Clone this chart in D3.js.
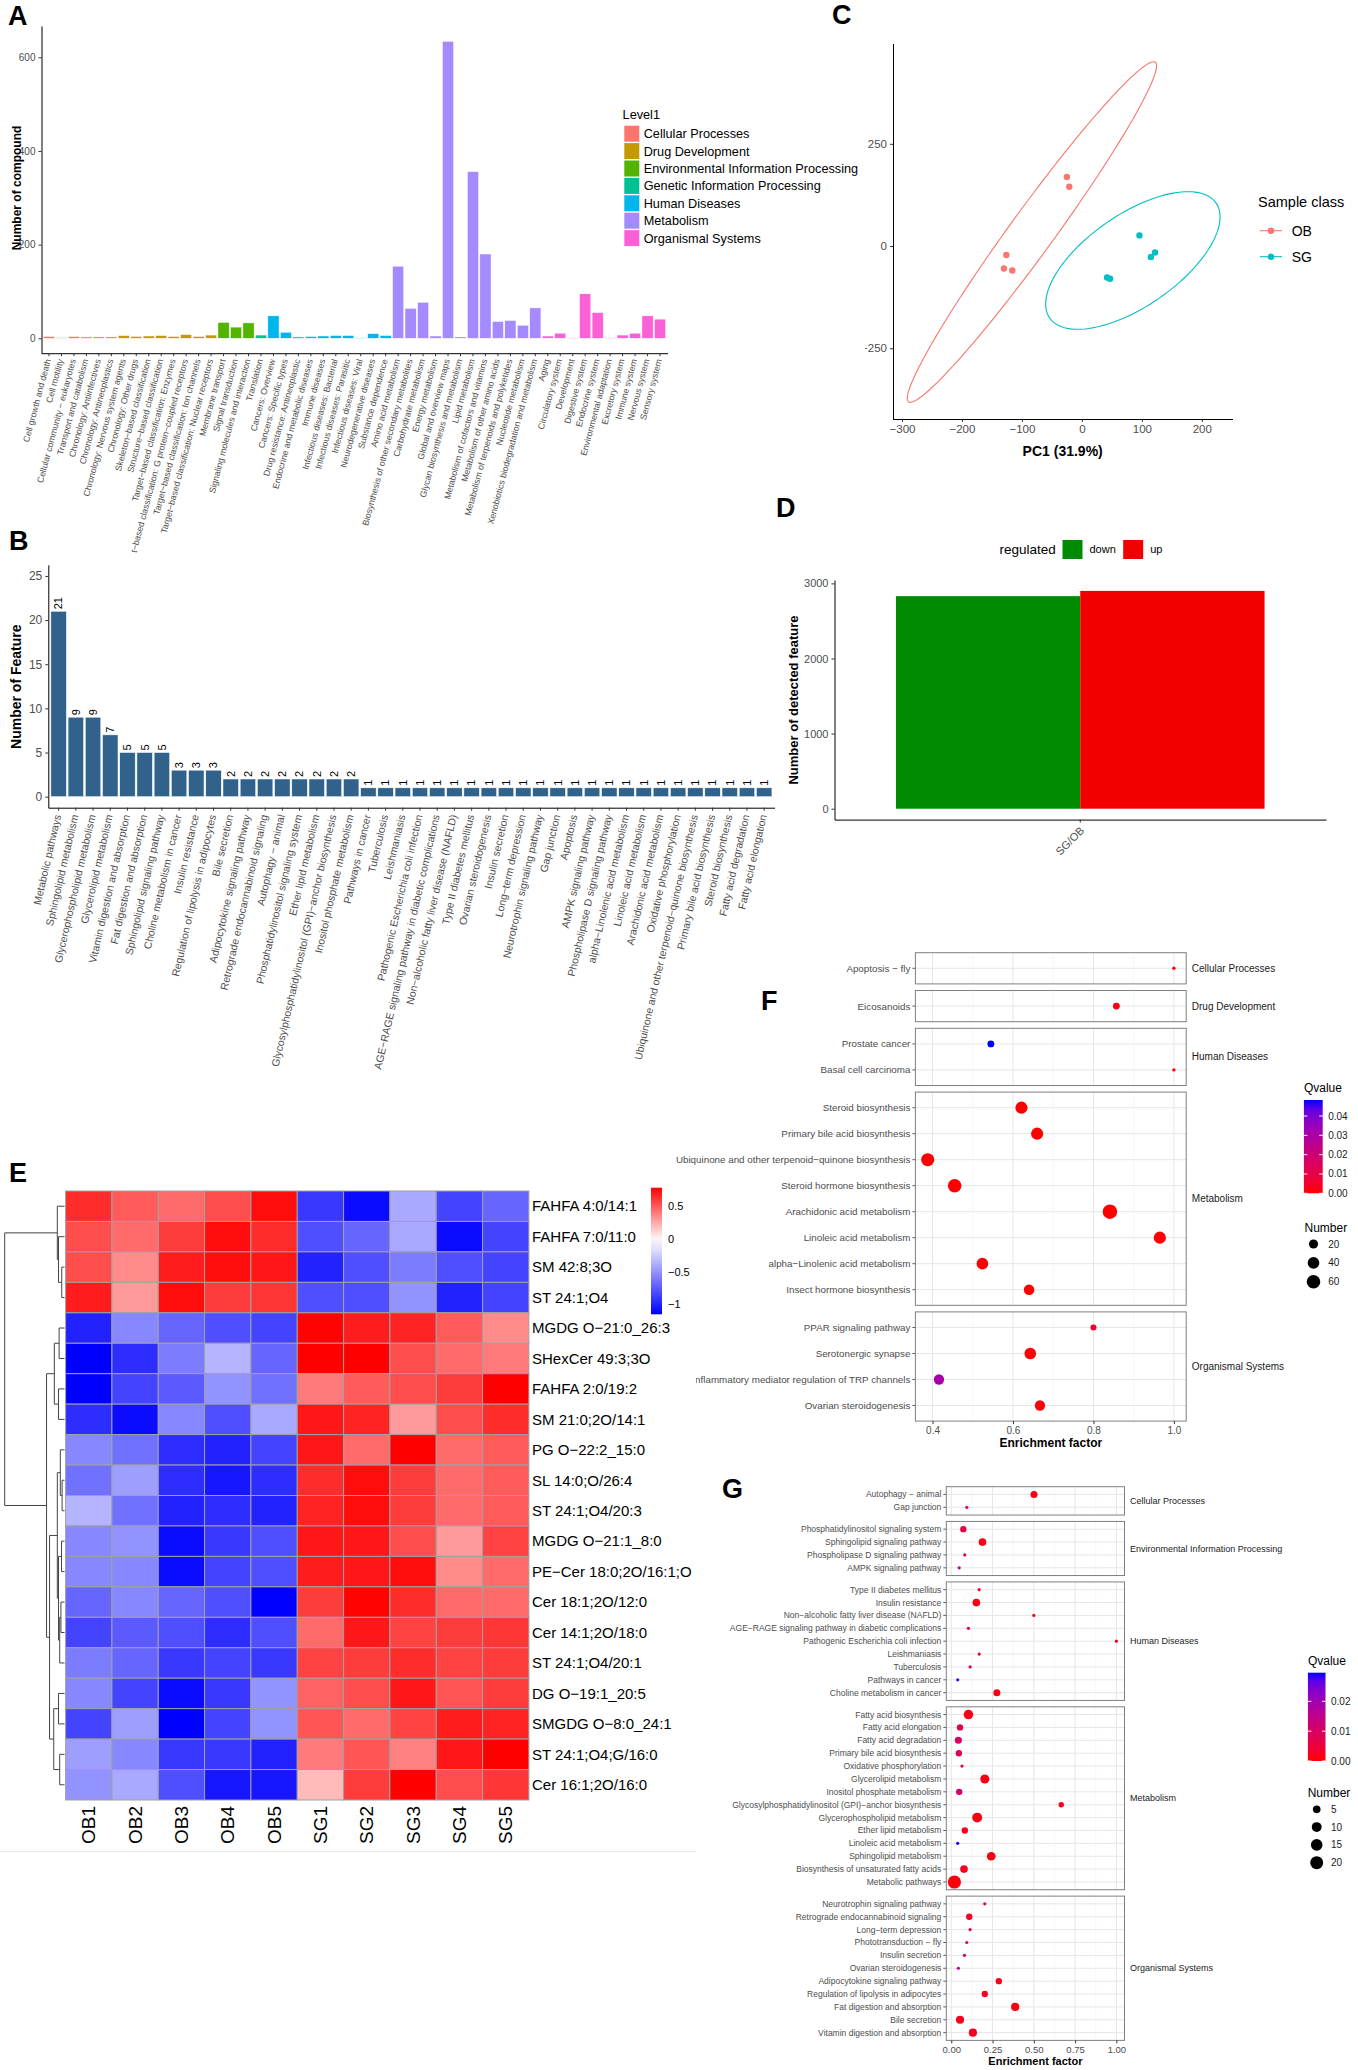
<!DOCTYPE html>
<html>
<head>
<meta charset="utf-8">
<script src="https://cdn.jsdelivr.net/npm/d3@7"></script>
<style>
body { margin: 0; background: #fff; }
svg { display: block; }
</style>
</head>
<body>
<script>
// ---------- data ----------
var aLevel1 = ["Cellular Processes", "Drug Development", "Environmental Information Processing",
  "Genetic Information Processing", "Human Diseases", "Metabolism", "Organismal Systems"];
var aColors = ["#F8766D", "#C49A00", "#53B400", "#00C094", "#00B6EB", "#A58AFF", "#FB61D7"];
var aPathways = ["Cell growth and death", "Cell motility", "Cellular community − eukaryotes", "Transport and catabolism",
  "Chronology: Antiinfectives", "Chronology: Antineoplastics", "Chronology: Nervous system agents", "Chronology: Other drugs",
  "Skeleton−based classification", "Structure−based classification", "Target−based classification: Enzymes",
  "Target−based classification: G protein−coupled receptors", "Target−based classification: Ion channels",
  "Target−based classification: Nuclear receptors", "Membrane transport", "Signal transduction",
  "Signaling molecules and interaction", "Translation", "Cancers: Overview", "Cancers: Specific types",
  "Drug resistance: Antineoplastic", "Endocrine and metabolic diseases", "Immune diseases",
  "Infectious diseases: Bacterial", "Infectious diseases: Parasitic", "Infectious diseases: Viral",
  "Neurodegenerative diseases", "Substance dependence", "Amino acid metabolism",
  "Biosynthesis of other secondary metabolites", "Carbohydrate metabolism", "Energy metabolism",
  "Global and overview maps", "Glycan biosynthesis and metabolism", "Lipid metabolism",
  "Metabolism of cofactors and vitamins", "Metabolism of other amino acids", "Metabolism of terpenoids and polyketides",
  "Nucleotide metabolism", "Xenobiotics biodegradation and metabolism", "Aging", "Circulatory system", "Development",
  "Digestive system", "Endocrine system", "Environmental adaptation", "Excretory system", "Immune system",
  "Nervous system", "Sensory system"];
var aGroup = [0,0,0,0, 1,1,1,1,1,1,1,1,1,1, 2,2,2, 3, 4,4,4,4,4,4,4,4,4,4, 5,5,5,5,5,5,5,5,5,5,5,5, 6,6,6,6,6,6,6,6,6,6];
var aCounts = [4,1,4,3, 3,3,6,4,5,6,4,8,4,7, 34,24,33, 7, 48,13,3,4,5,6,6,1,10,6,
  154,64,77,5,634,3,356,180,36,38,28,65, 5,11,1,95,55,1,7,11,48,41];

var bPathways = ["Metabolic pathways", "Sphingolipid metabolism", "Glycerophospholipid metabolism", "Glycerolipid metabolism",
  "Vitamin digestion and absorption", "Fat digestion and absorption", "Sphingolipid signaling pathway",
  "Choline metabolism in cancer", "Insulin resistance", "Regulation of lipolysis in adipocytes", "Bile secretion",
  "Adipocytokine signaling pathway", "Retrograde endocannabinoid signaling", "Autophagy − animal",
  "Phosphatidylinositol signaling system", "Ether lipid metabolism", "Glycosylphosphatidylinositol (GPI)−anchor biosynthesis",
  "Inositol phosphate metabolism", "Pathways in cancer", "Tuberculosis", "Leishmaniasis",
  "Pathogenic Escherichia coli infection", "AGE−RAGE signaling pathway in diabetic complications",
  "Non−alcoholic fatty liver disease (NAFLD)", "Type II diabetes mellitus", "Ovarian steroidogenesis",
  "Insulin secretion", "Long−term depression", "Neurotrophin signaling pathway", "Gap junction", "Apoptosis",
  "AMPK signaling pathway", "Phospholipase D signaling pathway", "alpha−Linolenic acid metabolism",
  "Linoleic acid metabolism", "Arachidonic acid metabolism", "Oxidative phosphorylation",
  "Ubiquinone and other terpenoid−quinone biosynthesis", "Primary bile acid biosynthesis", "Steroid biosynthesis",
  "Fatty acid degradation", "Fatty acid elongation"];
var bCounts = [21,9,9,7,5,5,5,3,3,3,2,2,2,2,2,2,2,2,1,1,1,1,1,1,1,1,1,1,1,1,1,1,1,1,1,1,1,1,1,1,1,1];

var cClasses = ["OB", "SG"];
var cColors = ["#F8766D", "#00BFC4"];
var cOB = [[-25, 169], [-21, 145], [-126, -22], [-130, -55], [-116, -60]];
var cSG = [[96, 26], [122, -16], [115, -27], [42, -77], [47, -80]];
// ellipse: centre x, centre y, semi-axis 1 (dx, dy), semi-axis 2 (dx, dy), data units
var cEllipseOB = [-83.3, 34.2, 205.8, 415.4, 29.7, -31.5];
var cEllipseSG = [85, -35.4, 138.8, 140.5, 43.5, -92.6];
var cXTicks = [-300, -200, -100, 0, 100, 200];
var cYTicks = [-250, 0, 250];

var dGroups = ["down", "up"];
var dColors = ["#008B00", "#F20000"];
var dCounts = [2830, 2900];

var eCols = ["OB1", "OB2", "OB3", "OB4", "OB5", "SG1", "SG2", "SG3", "SG4", "SG5"];
var eRows = ["FAHFA 4:0/14:1", "FAHFA 7:0/11:0", "SM 42:8;3O", "ST 24:1;O4", "MGDG O−21:0_26:3", "SHexCer 49:3;3O",
  "FAHFA 2:0/19:2", "SM 21:0;2O/14:1", "PG O−22:2_15:0", "SL 14:0;O/26:4", "ST 24:1;O4/20:3", "MGDG O−21:1_8:0",
  "PE−Cer 18:0;2O/16:1;O", "Cer 18:1;2O/12:0", "Cer 14:1;2O/18:0", "ST 24:1;O4/20:1", "DG O−19:1_20:5",
  "SMGDG O−8:0_24:1", "ST 24:1;O4;G/16:0", "Cer 16:1;2O/16:0"];
var eValues = [
  [0.65, 0.5, 0.45, 0.55, 0.75, -0.9, -1.1, -0.4, -0.85, -0.7],
  [0.55, 0.45, 0.6, 0.75, 0.65, -0.8, -0.7, -0.4, -1.1, -0.85],
  [0.55, 0.35, 0.7, 0.75, 0.72, -1.0, -0.8, -0.6, -0.8, -0.85],
  [0.7, 0.3, 0.75, 0.6, 0.62, -0.8, -0.8, -0.5, -1.0, -0.85],
  [-1.0, -0.55, -0.7, -0.8, -0.85, 0.78, 0.7, 0.68, 0.5, 0.35],
  [-1.15, -0.95, -0.6, -0.35, -0.7, 0.8, 0.8, 0.55, 0.45, 0.4],
  [-1.15, -0.85, -0.75, -0.5, -0.65, 0.4, 0.5, 0.55, 0.6, 0.8],
  [-0.95, -1.1, -0.55, -0.8, -0.4, 0.72, 0.68, 0.3, 0.55, 0.65],
  [-0.55, -0.65, -0.95, -1.0, -0.85, 0.72, 0.45, 0.8, 0.45, 0.5],
  [-0.65, -0.45, -0.95, -1.05, -0.95, 0.65, 0.75, 0.6, 0.45, 0.5],
  [-0.35, -0.65, -1.0, -0.95, -1.0, 0.68, 0.75, 0.6, 0.45, 0.5],
  [-0.55, -0.5, -1.1, -0.9, -0.8, 0.72, 0.72, 0.55, 0.3, 0.58],
  [-0.55, -0.55, -1.1, -0.85, -0.8, 0.7, 0.72, 0.75, 0.35, 0.45],
  [-0.7, -0.55, -0.7, -0.8, -1.15, 0.6, 0.78, 0.65, 0.45, 0.45],
  [-0.85, -0.75, -0.8, -0.95, -0.8, 0.45, 0.72, 0.58, 0.6, 0.62],
  [-0.6, -0.7, -0.9, -0.85, -0.9, 0.58, 0.6, 0.65, 0.58, 0.6],
  [-0.55, -0.85, -1.1, -0.9, -0.5, 0.48, 0.55, 0.72, 0.52, 0.6],
  [-0.85, -0.45, -1.15, -0.85, -0.5, 0.52, 0.45, 0.58, 0.7, 0.68],
  [-0.45, -0.55, -0.9, -0.9, -1.0, 0.4, 0.52, 0.38, 0.72, 0.8],
  [-0.5, -0.4, -0.8, -1.05, -1.05, 0.2, 0.6, 0.8, 0.55, 0.62]
];
// row dendrogram: [height, left, right], leaves are row indices
var eTree = [1.0,
  [0.12, 0, [0.1, 1, [0.046, 2, 3]]],
  [0.3,
    [0.17, [0.09, 4, 5], [0.1, 6, 7]],
    [0.25,
      [0.12, [0.07, 8, [0.04, 9, 10]], [0.1, [0.05, 11, 12], [0.08, [0.06, 13, 14], 15]]],
      [0.18, [0.1, 16, 17], [0.08, 18, 19]]]]];
var eLegendTicks = [0.5, 0, -0.5, -1];

var CP = "Cellular Processes", DD = "Drug Development", EI = "Environmental Information Processing",
  HD = "Human Diseases", ME = "Metabolism", OS = "Organismal Systems";

var fNames = ["Apoptosis − fly", "Eicosanoids", "Prostate cancer", "Basal cell carcinoma", "Steroid biosynthesis",
  "Primary bile acid biosynthesis", "Ubiquinone and other terpenoid−quinone biosynthesis", "Steroid hormone biosynthesis",
  "Arachidonic acid metabolism", "Linoleic acid metabolism", "alpha−Linolenic acid metabolism",
  "Insect hormone biosynthesis", "PPAR signaling pathway", "Serotonergic synapse",
  "Inflammatory mediator regulation of TRP channels", "Ovarian steroidogenesis"];
var fClass = [CP, DD, HD, HD, ME, ME, ME, ME, ME, ME, ME, ME, OS, OS, OS, OS];
var fFactor = [1.0, 0.857, 0.545, 1.0, 0.621, 0.66, 0.388, 0.455, 0.841, 0.965, 0.524, 0.64, 0.8, 0.643, 0.416, 0.667];
var fNumber = [1, 8, 8, 1, 45, 45, 55, 60, 70, 45, 40, 30, 5, 40, 28, 28];
var fQvalue = [0.0005, 0.001, 0.0483, 0.0005, 0, 0, 0, 0, 0, 0, 0, 0, 0.006, 0.0005, 0.031, 0.0005];
var fTicks = [0.4, 0.6, 0.8, 1.0];
var fQTicks = [0, 0.01, 0.02, 0.03, 0.04];
var fSizeTicks = [20, 40, 60];

var gNames = ["Autophagy − animal", "Gap junction",
  "Phosphatidylinositol signaling system", "Sphingolipid signaling pathway", "Phospholipase D signaling pathway", "AMPK signaling pathway",
  "Type II diabetes mellitus", "Insulin resistance", "Non−alcoholic fatty liver disease (NAFLD)",
  "AGE−RAGE signaling pathway in diabetic complications", "Pathogenic Escherichia coli infection", "Leishmaniasis",
  "Tuberculosis", "Pathways in cancer", "Choline metabolism in cancer",
  "Fatty acid biosynthesis", "Fatty acid elongation", "Fatty acid degradation", "Primary bile acid biosynthesis",
  "Oxidative phosphorylation", "Glycerolipid metabolism", "Inositol phosphate metabolism",
  "Glycosylphosphatidylinositol (GPI)−anchor biosynthesis", "Glycerophospholipid metabolism", "Ether lipid metabolism",
  "Linoleic acid metabolism", "Sphingolipid metabolism", "Biosynthesis of unsaturated fatty acids", "Metabolic pathways",
  "Neurotrophin signaling pathway", "Retrograde endocannabinoid signaling", "Long−term depression", "Phototransduction − fly",
  "Insulin secretion", "Ovarian steroidogenesis", "Adipocytokine signaling pathway", "Regulation of lipolysis in adipocytes",
  "Fat digestion and absorption", "Bile secretion", "Vitamin digestion and absorption"];
var gClass = [CP, CP, EI, EI, EI, EI, HD, HD, HD, HD, HD, HD, HD, HD, HD,
  ME, ME, ME, ME, ME, ME, ME, ME, ME, ME, ME, ME, ME, ME,
  OS, OS, OS, OS, OS, OS, OS, OS, OS, OS, OS];
var gFactor = [0.501, 0.094, 0.073, 0.189, 0.082, 0.048, 0.169, 0.152, 0.5, 0.104, 1.0, 0.169, 0.114, 0.039, 0.276,
  0.104, 0.053, 0.043, 0.046, 0.065, 0.203, 0.048, 0.666, 0.157, 0.082, 0.039, 0.242, 0.077, 0.019,
  0.203, 0.109, 0.114, 0.094, 0.08, 0.043, 0.288, 0.203, 0.387, 0.053, 0.131];
var gNumber = [4, 1, 3, 5, 1, 1, 1, 5, 1, 1, 1, 1, 1, 1, 4,
  9, 3, 4, 3, 1, 8, 3, 2, 10, 3, 1, 7, 5, 21,
  1, 3, 1, 1, 1, 1, 3, 3, 6, 6, 6];
var gQvalue = [0.001, 0.006, 0.006, 0.001, 0.008, 0.015, 0.003, 0.001, 0.001, 0.006, 0.001, 0.004, 0.005, 0.028, 0.001,
  0.001, 0.008, 0.01, 0.009, 0.008, 0.001, 0.011, 0.002, 0.001, 0.002, 0.029, 0.001, 0.002, 0.0005,
  0.004, 0.003, 0.005, 0.009, 0.008, 0.017, 0.002, 0.002, 0.001, 0.002, 0.002];
var gTicks = [0, 0.25, 0.5, 0.75, 1.0];
var gQTicks = [0, 0.01, 0.02];
var gSizeTicks = [5, 10, 15, 20];

// ---------- page ----------
var FONT = "'Liberation Sans', Arial, Helvetica, sans-serif";
var svg = d3.select("body").append("svg")
    .attr("width", 1358)
    .attr("height", 2070)
    .style("font-family", FONT);
svg.append("rect").attr("width", 1358).attr("height", 2070).attr("fill", "#fff");
var defs = svg.append("defs");

function letter(t, x, y) {
  svg.append("text").attr("x", x).attr("y", y).text(t)
    .style("font-size", "27px").style("font-weight", "bold").attr("fill", "#000");
}

function styleAxis(g, size) {
  g.attr("font-family", null).attr("font-size", null);
  g.select(".domain").attr("stroke", "#000").attr("stroke-width", 1);
  g.selectAll(".tick line").attr("stroke", "#333");
  g.selectAll(".tick text").attr("fill", "#4d4d4d").style("font-size", size + "px").style("font-family", FONT);
}

function vTitle(g, t, x, y, size) {
  g.append("text").attr("transform", "translate(" + x + "," + y + ") rotate(-90)")
    .attr("text-anchor", "middle").attr("dy", "0.35em")
    .style("font-size", size + "px").style("font-weight", "bold").text(t);
}

// ---------- A ----------
letter("A", 8, 25);
defs.append("clipPath").attr("id", "clipA").append("rect").attr("x", 0).attr("y", 0).attr("width", 900).attr("height", 553);
var gA = svg.append("g").attr("clip-path", "url(#clipA)");
var ax = d3.scaleBand().domain(aPathways).range([41.5, 667.5]).paddingInner(0.1).paddingOuter(0.15);
var ay = d3.scaleLinear().domain([-31.75, 666.75]).range([353.2, 26]);

gA.selectAll("rect.bar")
    .data(aPathways)
    .enter()
    .append("rect")
    .attr("x", function (d) { return ax(d); })
    .attr("width", ax.bandwidth())
    .attr("y", function (d, i) { return ay(aCounts[i]); })
    .attr("height", function (d, i) { return ay(0) - ay(aCounts[i]); })
    .attr("fill", function (d, i) { return aColors[aGroup[i]]; })
    .attr("stroke", "#fff")
    .attr("stroke-width", 0.5);

var aYA = gA.append("g").attr("transform", "translate(41.5,0)")
    .call(d3.axisLeft(ay).tickValues([0, 200, 400, 600]).tickSize(3).tickSizeOuter(0));
styleAxis(aYA, 10);
var aXA = gA.append("g").attr("transform", "translate(0,353.2)")
    .call(d3.axisBottom(ax).tickSize(3).tickSizeOuter(0));
styleAxis(aXA, 8.8);
aXA.selectAll(".tick text")
    .attr("text-anchor", "end").attr("x", 0).attr("y", 0).attr("dy", "0.35em")
    .attr("transform", "translate(-1,6) rotate(-75)");
vTitle(gA, "Number of compound", 16.6, 188, 12);

var gAL = gA.append("g");
gAL.append("text").attr("x", 622.6).attr("y", 118.5).style("font-size", "12.7px").text("Level1");
aLevel1.forEach(function (d, i) {
  var cy = 133.7 + i * 17.4;
  gAL.append("rect").attr("x", 624.3).attr("y", cy - 8).attr("width", 15).attr("height", 16).attr("fill", aColors[i]);
  gAL.append("text").attr("x", 643.7).attr("y", cy).attr("dy", "0.35em").style("font-size", "12.7px").text(d);
});

// ---------- C ----------
letter("C", 832, 24);
var gC = svg.append("g");
var cx = d3.scaleLinear().domain([-315, 252]).range([893, 1233]);
var cy = d3.scaleLinear().domain([-423, 494]).range([419, 44]);
defs.append("clipPath").attr("id", "clipC").append("rect").attr("x", 865).attr("y", 0).attr("width", 500).attr("height", 480);

function ellipsePath(e) {
  var pts = d3.range(0, 361, 3).map(function (t) {
    var a = t * Math.PI / 180;
    return [cx(e[0] + e[2] * Math.cos(a) + e[4] * Math.sin(a)), cy(e[1] + e[3] * Math.cos(a) + e[5] * Math.sin(a))];
  });
  return d3.line()(pts);
}
[cEllipseOB, cEllipseSG].forEach(function (e, i) {
  gC.append("path").attr("d", ellipsePath(e)).attr("fill", "none").attr("stroke", cColors[i]).attr("stroke-width", 1.1);
});
[cOB, cSG].forEach(function (pts, i) {
  gC.selectAll("circle.p" + i)
      .data(pts)
      .enter()
      .append("circle")
      .attr("cx", function (d) { return cx(d[0]); })
      .attr("cy", function (d) { return cy(d[1]); })
      .attr("r", 3.2)
      .attr("fill", cColors[i]);
});
var cXA = gC.append("g").attr("transform", "translate(0,419)")
    .call(d3.axisBottom(cx).tickValues(cXTicks).tickSize(3).tickSizeOuter(0));
styleAxis(cXA, 11.5);
cXA.select(".domain").attr("d", "M893,0.5H1233");
var cYWrap = gC.append("g").attr("clip-path", "url(#clipC)");
var cYA = cYWrap.append("g").attr("transform", "translate(893,0)")
    .call(d3.axisLeft(cy).tickValues(cYTicks).tickSize(3).tickSizeOuter(0));
styleAxis(cYA, 11.5);
cYA.select(".domain").attr("d", "M0.5,44V419");
gC.append("text").attr("x", 1062.7).attr("y", 456).attr("text-anchor", "middle")
    .style("font-size", "14px").style("font-weight", "bold").text("PC1 (31.9%)");
gC.append("text").attr("x", 1258).attr("y", 207).style("font-size", "14.5px").text("Sample class");
cClasses.forEach(function (d, i) {
  var yy = 230.7 + i * 26;
  gC.append("line").attr("x1", 1260).attr("x2", 1282).attr("y1", yy).attr("y2", yy).attr("stroke", cColors[i]).attr("stroke-width", 1.1);
  gC.append("circle").attr("cx", 1271).attr("cy", yy).attr("r", 3.2).attr("fill", cColors[i]);
  gC.append("text").attr("x", 1291.7).attr("y", yy).attr("dy", "0.35em").style("font-size", "14px").text(d);
});

// ---------- B ----------
letter("B", 9, 550);
var gB = svg.append("g");
var bx = d3.scaleBand().domain(bPathways).range([48.3, 774.5]).paddingInner(0.1).paddingOuter(0.15);
var by = d3.scaleLinear().domain([-1.25, 26.25]).range([807.7, 564.9]);
gB.selectAll("rect.bar")
    .data(bPathways)
    .enter()
    .append("rect")
    .attr("x", function (d) { return bx(d); })
    .attr("width", bx.bandwidth())
    .attr("y", function (d, i) { return by(bCounts[i]); })
    .attr("height", function (d, i) { return by(0) - by(bCounts[i]); })
    .attr("fill", "#31628C")
    .attr("stroke", "#fff")
    .attr("stroke-width", 0.5);
gB.selectAll("text.val")
    .data(bPathways)
    .enter()
    .append("text")
    .attr("transform", function (d, i) {
      return "translate(" + (bx(d) + bx.bandwidth() / 2) + "," + (by(bCounts[i]) - 2) + ") rotate(-90)";
    })
    .attr("dy", "0.35em")
    .style("font-size", "11px")
    .text(function (d, i) { return bCounts[i]; });
var bYA = gB.append("g").attr("transform", "translate(48.3,0)")
    .call(d3.axisLeft(by).tickValues([0, 5, 10, 15, 20, 25]).tickSize(3).tickSizeOuter(0));
styleAxis(bYA, 12);
var bXA = gB.append("g").attr("transform", "translate(0,807.7)")
    .call(d3.axisBottom(bx).tickSize(3).tickSizeOuter(0));
styleAxis(bXA, 10.5);
bXA.selectAll(".tick text")
    .attr("text-anchor", "end").attr("x", 0).attr("y", 0).attr("dy", "0.35em")
    .attr("transform", "translate(-1,7) rotate(-77)");
vTitle(gB, "Number of Feature", 16, 686.7, 14);

// ---------- D ----------
letter("D", 776, 517);
var gD = svg.append("g");
var dx = d3.scaleBand().domain(["SG/OB"]).range([834.5, 1326]).paddingInner(0.1).paddingOuter(0.15);
var dxs = d3.scaleBand().domain(dGroups).range([0, dx.bandwidth()]);
var dy = d3.scaleLinear().domain([-145, 3045]).range([819.6, 580]);
gD.selectAll("rect.bar")
    .data(dGroups)
    .enter()
    .append("rect")
    .attr("x", function (d) { return dx("SG/OB") + dxs(d); })
    .attr("width", dxs.bandwidth())
    .attr("y", function (d, i) { return dy(dCounts[i]); })
    .attr("height", function (d, i) { return dy(0) - dy(dCounts[i]); })
    .attr("fill", function (d, i) { return dColors[i]; });
var dYA = gD.append("g").attr("transform", "translate(834.5,0)")
    .call(d3.axisLeft(dy).tickValues([0, 1000, 2000, 3000]).tickFormat(d3.format("d")).tickSize(3).tickSizeOuter(0));
styleAxis(dYA, 11);
var dXA = gD.append("g").attr("transform", "translate(0,819.6)")
    .call(d3.axisBottom(dx).tickSize(3).tickSizeOuter(0));
styleAxis(dXA, 11);
dXA.selectAll(".tick text")
    .attr("text-anchor", "end").attr("x", 0).attr("y", 0).attr("dy", "0.35em")
    .attr("transform", "translate(2,9) rotate(-45)");
vTitle(gD, "Number of detected feature", 793.2, 700, 13);
gD.append("text").attr("x", 999.5).attr("y", 549.5).attr("dy", "0.35em").style("font-size", "13.5px").text("regulated");
dGroups.forEach(function (d, i) {
  var x0 = 1062.5 + i * 60.7;
  gD.append("rect").attr("x", x0).attr("y", 540).attr("width", 20).attr("height", 19).attr("fill", dColors[i]);
  gD.append("text").attr("x", x0 + 27).attr("y", 549.5).attr("dy", "0.35em").style("font-size", "11px").text(d);
});

// ---------- F and G ----------
function dotPlot(o) {
  var g = svg.append("g");
  var x = d3.scaleLinear().domain(o.xDomain).range([o.left, o.right]);
  var col = d3.scaleLinear().domain([0, o.qMax]).range(["#FF0000", "#0000FF"]).interpolate(d3.interpolateLab).clamp(true);
  var rad = d3.scaleSqrt().domain([0, o.nMax - 1]).range([o.rMin, o.rMax]);
  var classes = [];
  o.cls.forEach(function (c) { if (classes.indexOf(c) < 0) classes.push(c); });
  var y0 = o.top, rowY = [], panels = [];
  classes.forEach(function (c) {
    var idx = d3.range(o.cls.length).filter(function (i) { return o.cls[i] === c; });
    var h = (idx.length + 0.2) * o.step;
    panels.push({ c: c, top: y0, h: h });
    idx.forEach(function (i, k) { rowY[i] = y0 + (0.6 + k) * o.step; });
    y0 += h + o.gap;
  });
  var bottom = y0 - o.gap;
  var minor = [];
  for (var k = 0; k < o.ticks.length - 1; k++) minor.push((o.ticks[k] + o.ticks[k + 1]) / 2);

  panels.forEach(function (p) {
    var pg = g.append("g");
    pg.selectAll("line.minor").data(minor).enter().append("line")
        .attr("x1", function (d) { return x(d); }).attr("x2", function (d) { return x(d); })
        .attr("y1", p.top).attr("y2", p.top + p.h).attr("stroke", "#f2f2f2").attr("stroke-width", 0.6);
    pg.selectAll("line.major").data(o.ticks).enter().append("line")
        .attr("x1", function (d) { return x(d); }).attr("x2", function (d) { return x(d); })
        .attr("y1", p.top).attr("y2", p.top + p.h).attr("stroke", "#e6e6e6").attr("stroke-width", 1);
    pg.append("text").attr("x", o.right + 5.6).attr("y", p.top + p.h / 2).attr("dy", "0.35em")
        .attr("fill", "#1a1a1a").style("font-size", o.stripSize + "px").text(p.c);
  });
  g.selectAll("line.hgrid").data(o.names).enter().append("line")
      .attr("x1", o.left).attr("x2", o.right)
      .attr("y1", function (d, i) { return rowY[i]; }).attr("y2", function (d, i) { return rowY[i]; })
      .attr("stroke", "#e6e6e6").attr("stroke-width", 1);
  g.selectAll("line.ytick").data(o.names).enter().append("line")
      .attr("x1", o.left - 3).attr("x2", o.left)
      .attr("y1", function (d, i) { return rowY[i]; }).attr("y2", function (d, i) { return rowY[i]; })
      .attr("stroke", "#333").attr("stroke-width", 0.8);
  g.selectAll("text.ylab").data(o.names).enter().append("text")
      .attr("x", o.left - 5).attr("y", function (d, i) { return rowY[i]; })
      .attr("dy", "0.35em").attr("text-anchor", "end").attr("fill", "#4d4d4d")
      .style("font-size", o.labelSize + "px").text(function (d) { return d; });
  g.selectAll("circle.dot").data(o.names).enter().append("circle")
      .attr("cx", function (d, i) { return x(o.factor[i]); })
      .attr("cy", function (d, i) { return rowY[i]; })
      .attr("r", function (d, i) { return rad(o.num[i] - 1); })
      .attr("fill", function (d, i) { return col(o.q[i]); });
  panels.forEach(function (p) {
    g.append("rect").attr("x", o.left).attr("y", p.top).attr("width", o.right - o.left).attr("height", p.h)
        .attr("fill", "none").attr("stroke", "#7f7f7f").attr("stroke-width", 1);
  });
  var xa = g.append("g").attr("transform", "translate(0," + bottom + ")")
      .call(d3.axisBottom(x).tickValues(o.ticks).tickSize(3).tickSizeOuter(0).tickFormat(d3.format(o.fmt)));
  styleAxis(xa, o.tickSize);
  xa.select(".domain").remove();
  g.append("text").attr("x", (o.left + o.right) / 2).attr("y", bottom + o.titleDy).attr("text-anchor", "middle")
      .style("font-size", o.titleSize + "px").style("font-weight", "bold").text("Enrichment factor");

  // Qvalue colourbar
  var q = d3.scaleLinear().domain([0, o.qMax]).range([o.qBar[3], o.qBar[1]]);
  var grad = defs.append("linearGradient").attr("id", o.id + "grad")
      .attr("x1", 0).attr("y1", 1).attr("x2", 0).attr("y2", 0);
  d3.range(0, 11).forEach(function (k) {
    grad.append("stop").attr("offset", k / 10).attr("stop-color", col(k * o.qMax / 10));
  });
  g.append("text").attr("x", o.qBar[0]).attr("y", o.qBar[1] - 8).style("font-size", "12px").text("Qvalue");
  g.append("rect").attr("x", o.qBar[0]).attr("y", o.qBar[1]).attr("width", o.qBar[2] - o.qBar[0])
      .attr("height", o.qBar[3] - o.qBar[1]).attr("fill", "url(#" + o.id + "grad)");
  o.qTicks.forEach(function (t) {
    g.append("line").attr("x1", o.qBar[0]).attr("x2", o.qBar[0] + 3.5).attr("y1", q(t)).attr("y2", q(t)).attr("stroke", "#fff");
    g.append("line").attr("x1", o.qBar[2] - 3.5).attr("x2", o.qBar[2]).attr("y1", q(t)).attr("y2", q(t)).attr("stroke", "#fff");
    g.append("text").attr("x", o.qBar[2] + 5.5).attr("y", q(t)).attr("dy", "0.35em")
        .style("font-size", "10px").attr("fill", "#1a1a1a").text(d3.format(".2f")(t));
  });
  // Number legend
  g.append("text").attr("x", o.nLeg[0] - 9).attr("y", o.nLeg[1] - 12).style("font-size", "12px").text("Number");
  o.sizeTicks.forEach(function (s, i) {
    var yy = o.nLeg[1] + i * o.nLeg[2];
    g.append("circle").attr("cx", o.nLeg[0]).attr("cy", yy).attr("r", rad(s - 1)).attr("fill", "#000");
    g.append("text").attr("x", o.qBar[2] + 5.5).attr("y", yy).attr("dy", "0.35em")
        .style("font-size", "10px").attr("fill", "#1a1a1a").text(s);
  });
}

letter("F", 761, 1010);
dotPlot({
  id: "f", names: fNames, cls: fClass, factor: fFactor, num: fNumber, q: fQvalue,
  xDomain: [0.3574, 1.0306], left: 915.4, right: 1186.2, top: 952.7, step: 26, gap: 6.6,
  ticks: fTicks, fmt: ".1f", labelSize: 9.8, stripSize: 10, tickSize: 10, titleSize: 12, titleDy: 26,
  qMax: 0.0483, nMax: 70, rMin: 1.7, rMax: 7.2,
  qBar: [1303.9, 1100, 1322.7, 1193.3], qTicks: fQTicks,
  nLeg: [1313.5, 1244, 18.9], sizeTicks: fSizeTicks
});

letter("G", 722, 1498);
dotPlot({
  id: "g", names: gNames, cls: gClass, factor: gFactor, num: gNumber, q: gQvalue,
  xDomain: [-0.0301, 1.0491], left: 946.3, right: 1124.5, top: 1486.7, step: 12.88, gap: 6.4,
  ticks: gTicks, fmt: ".2f", labelSize: 8.5, stripSize: 9, tickSize: 9.5, titleSize: 11, titleDy: 25,
  qMax: 0.0296, nMax: 21, rMin: 1.6, rMax: 6.6,
  qBar: [1307.9, 1672.7, 1325.5, 1761], qTicks: gQTicks,
  nLeg: [1316.7, 1809.3, 17.8], sizeTicks: gSizeTicks
});

// ---------- E (drawn last, its white box covers long F labels) ----------
var gE = svg.append("g");
gE.append("rect").attr("x", 0).attr("y", 1166).attr("width", 696).attr("height", 685).attr("fill", "#fff");
letter("E", 9, 1182);
gE = svg.append("g");
var ex = d3.scaleBand().domain(eCols).range([65.6, 528.9]);
var ey = d3.scaleBand().domain(eRows).range([1191, 1800]);
var ecol = d3.scaleLinear().domain([-1.15, -0.02, 0.79]).range(["#0000ff", "#ffffff", "#ff0000"]).clamp(true);
var eCells = [];
eRows.forEach(function (r, i) {
  eCols.forEach(function (c, j) { eCells.push({ r: r, c: c, v: eValues[i][j] }); });
});
gE.selectAll("rect.cell")
    .data(eCells)
    .enter()
    .append("rect")
    .attr("x", function (d) { return ex(d.c); })
    .attr("y", function (d) { return ey(d.r); })
    .attr("width", ex.bandwidth())
    .attr("height", ey.bandwidth())
    .attr("fill", function (d) { return ecol(d.v); })
    .attr("stroke", "#a0a0a0")
    .attr("stroke-width", 1);
gE.selectAll("text.row")
    .data(eRows)
    .enter()
    .append("text")
    .attr("x", 532)
    .attr("y", function (d) { return ey(d) + ey.bandwidth() / 2; })
    .attr("dy", "0.35em")
    .style("font-size", "15px")
    .text(function (d) { return d; });
gE.selectAll("text.col")
    .data(eCols)
    .enter()
    .append("text")
    .attr("transform", function (d) { return "translate(" + (ex(d) + ex.bandwidth() / 2) + ",1806) rotate(-90)"; })
    .attr("text-anchor", "end")
    .attr("dy", "0.35em")
    .style("font-size", "19px")
    .text(function (d) { return d; });

var eh = d3.scaleLinear().domain([0, 1]).range([64.5, 4.7]);
var dendroLines = [];
function layoutTree(node) {
  if (typeof node === "number") return { y: ey(eRows[node]) + ey.bandwidth() / 2, h: 0 };
  var a = layoutTree(node[1]), b = layoutTree(node[2]);
  var h = node[0];
  dendroLines.push([eh(h), a.y, eh(h), b.y]);
  dendroLines.push([eh(h), a.y, eh(a.h), a.y]);
  dendroLines.push([eh(h), b.y, eh(b.h), b.y]);
  return { y: (a.y + b.y) / 2, h: h };
}
layoutTree(eTree);
gE.selectAll("line.dendro")
    .data(dendroLines)
    .enter()
    .append("line")
    .attr("x1", function (d) { return d[0]; })
    .attr("y1", function (d) { return d[1]; })
    .attr("x2", function (d) { return d[2]; })
    .attr("y2", function (d) { return d[3]; })
    .attr("stroke", "#444")
    .attr("stroke-width", 1);

var eLeg = d3.scaleLinear().domain([-1.15, 0.79]).range([1314.3, 1187.7]);
var eGrad = defs.append("linearGradient").attr("id", "eGrad")
    .attr("x1", 0).attr("y1", 1).attr("x2", 0).attr("y2", 0);
d3.range(0, 11).forEach(function (k) {
  var v = -1.15 + k * (0.79 + 1.15) / 10;
  eGrad.append("stop").attr("offset", k / 10).attr("stop-color", ecol(v));
});
gE.append("rect").attr("x", 651).attr("y", 1187.7).attr("width", 11).attr("height", 126.6).attr("fill", "url(#eGrad)");
gE.selectAll("text.leg")
    .data(eLegendTicks)
    .enter()
    .append("text")
    .attr("x", 668)
    .attr("y", function (d) { return eLeg(d); })
    .attr("dy", "0.35em")
    .style("font-size", "11px")
    .text(function (d) { return d < 0 ? "\u2212" + Math.abs(d) : d; });
gE.append("line").attr("x1", 0).attr("x2", 696).attr("y1", 1851.7).attr("y2", 1851.7).attr("stroke", "#e2e2e2");
</script>
</body>
</html>
